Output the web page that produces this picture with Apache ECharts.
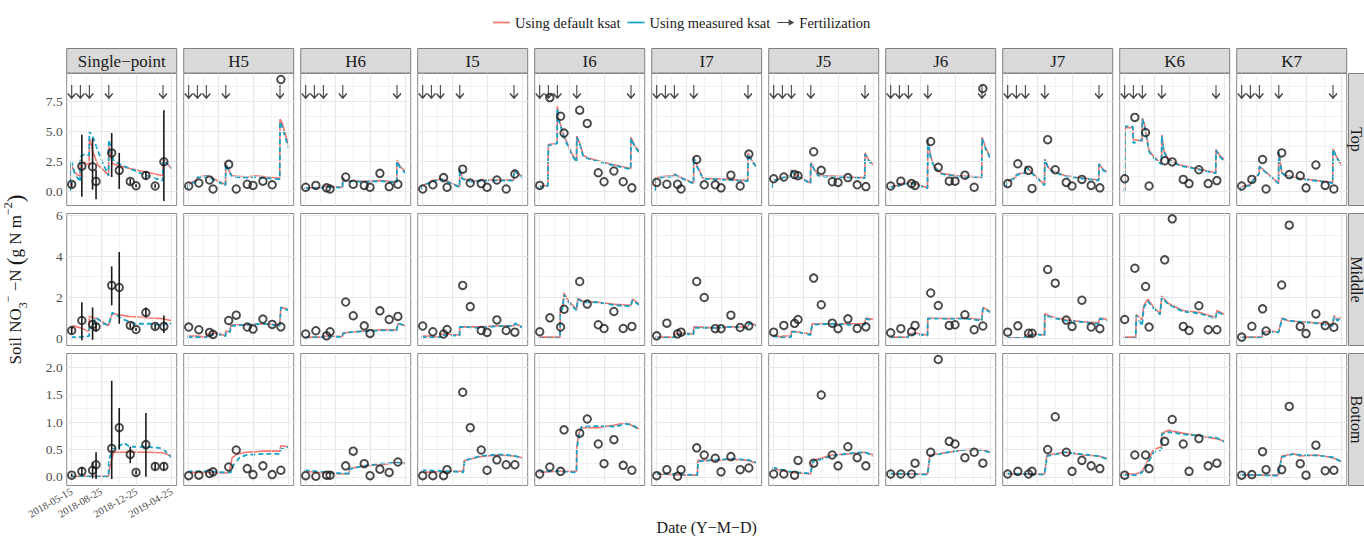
<!DOCTYPE html>
<html>
<head>
<meta charset="utf-8">
<title>Soil NO3-N by layer</title>
<script src="https://cdn.jsdelivr.net/npm/echarts@6/dist/echarts.min.js"></script>
<style>
  html, body { margin: 0; padding: 0; background: #fff; }
  #chart { width: 1364px; height: 536px; }
</style>
</head>
<body>
<div id="chart"></div>
<script>
// ---- data (days counted from 2018-05-15) ----
const sites = ['Single\u2212point', 'H5', 'H6', 'I5', 'I6', 'I7', 'J5', 'J6', 'J7', 'K6', 'K7'];
const layers = ['Top', 'Middle', 'Bottom'];
const dateTicks = [0, 102, 224, 345];
const dateLabels = ['2018-05-15', '2018-08-25', '2018-12-25', '2019-04-25'];
const obsDays = [0, 35, 72, 84, 138, 164, 202, 222, 256, 288, 318];
const fertDays = [0, 30, 61, 128, 315];

const topObs = [
  [0.58, 2.1, 2.05, 0.83, 3.2, 1.75, 0.83, 0.47, 1.33, 0.45, 2.47],
  [0.45, 0.7, 0.95, 0.2, 2.25, 0.2, 0.6, 0.5, 0.85, 0.55, 9.3],
  [0.35, 0.5, 0.3, 0.2, 1.2, 0.6, 0.5, 0.35, 1.5, 0.4, 0.6],
  [0.2, 0.55, 1.15, 0.35, 1.85, 0.7, 0.65, 0.35, 0.95, 0.2, 1.45],
  [0.5, 7.8, 6.25, 4.85, 6.75, 5.65, 1.55, 0.8, 1.7, 0.8, 0.3],
  [0.75, 0.6, 0.6, 0.2, 2.65, 0.55, 0.55, 0.3, 1.35, 0.45, 3.1],
  [1.05, 1.2, 1.4, 1.3, 3.3, 1.75, 0.8, 0.75, 1.15, 0.55, 0.4],
  [0.45, 0.85, 0.65, 0.5, 4.15, 2.0, 0.85, 0.85, 1.35, 0.35, 8.55],
  [0.65, 2.3, 1.75, 0.25, 4.3, 1.8, 0.75, 0.45, 1.0, 0.5, 0.3],
  [1.05, 6.15, 4.9, 0.45, 2.55, 2.45, 1.0, 0.65, 1.8, 0.65, 0.9],
  [0.45, 1.0, 2.65, 0.2, 3.2, 1.4, 1.3, 0.3, 2.2, 0.5, 0.2]
];
const midObs = [
  [0.37, 0.86, 0.67, 0.55, 2.57, 2.47, 0.62, 0.42, 1.25, 0.57, 0.57],
  [0.54, 0.41, 0.28, 0.18, 0.86, 1.12, 0.54, 0.44, 0.93, 0.67, 0.55],
  [0.2, 0.36, 0.11, 0.31, 1.76, 1.09, 0.6, 0.23, 1.33, 0.91, 1.06],
  [0.59, 0.31, 0.2, 0.42, 2.57, 1.54, 0.37, 0.28, 0.89, 0.37, 0.29],
  [0.31, 0.99, 0.54, 1.41, 2.76, 1.66, 0.65, 0.47, 1.3, 0.47, 0.57],
  [0.11, 0.73, 0.21, 0.29, 2.76, 1.98, 0.46, 0.46, 1.12, 0.52, 0.6],
  [0.29, 0.62, 0.72, 0.91, 2.93, 1.63, 0.73, 0.46, 0.94, 0.47, 0.55],
  [0.26, 0.46, 0.31, 0.62, 2.2, 1.59, 0.62, 0.65, 1.14, 0.41, 0.59],
  [0.29, 0.6, 0.24, 0.24, 3.35, 2.68, 0.88, 0.57, 1.85, 0.54, 0.46],
  [0.91, 3.41, 2.52, 0.54, 3.82, 5.82, 0.57, 0.37, 1.58, 0.41, 0.41],
  [0.05, 0.58, 1.43, 0.35, 2.59, 5.51, 0.57, 0.22, 1.18, 0.61, 0.53]
];
const botObs = [
  [0.03, 0.1, 0.12, 0.22, 0.52, 0.9, 0.41, 0.08, 0.59, 0.19, 0.19],
  [0.02, 0.03, 0.06, 0.09, 0.18, 0.49, 0.15, 0.04, 0.2, 0.04, 0.12],
  [0.02, 0.01, 0.03, 0.03, 0.2, 0.47, 0.24, 0.02, 0.14, 0.08, 0.27],
  [0.02, 0.02, 0.02, 0.13, 1.55, 0.9, 0.49, 0.12, 0.31, 0.22, 0.22],
  [0.05, 0.18, 0.1, 0.86, 0.8, 1.06, 0.6, 0.24, 0.68, 0.21, 0.12],
  [0.02, 0.13, 0.01, 0.13, 0.53, 0.4, 0.34, 0.09, 0.37, 0.13, 0.16],
  [0.05, 0.05, 0.03, 0.3, 0.25, 1.5, 0.4, 0.2, 0.55, 0.35, 0.2],
  [0.05, 0.05, 0.05, 0.25, 0.45, 2.15, 0.65, 0.6, 0.35, 0.45, 0.25],
  [0.05, 0.1, 0.05, 0.1, 0.5, 1.1, 0.45, 0.1, 0.3, 0.2, 0.15],
  [0.03, 0.4, 0.4, 0.15, 0.65, 1.05, 0.6, 0.1, 0.7, 0.2, 0.25],
  [0.03, 0.04, 0.46, 0.13, 0.13, 1.29, 0.24, 0.03, 0.58, 0.11, 0.12]
];

// error bars of the single-point site (low / high)
const spTopLow = [0.35, -0.45, 0.15, -0.65, 1.2, 0.2, 0.6, 0.35, 1.0, 0.3, -0.8];
const spTopHigh = [0.8, 4.7, 4.4, 1.8, 4.85, 3.2, 1.05, 0.6, 1.7, 0.6, 6.75];
const spMidLow = [0.2, -0.1, -0.08, 0.3, 1.6, 0.7, 0.5, 0.35, 1.0, 0.45, 0.25];
const spMidHigh = [0.55, 1.75, 1.5, 0.75, 3.5, 4.2, 0.75, 0.5, 1.5, 0.7, 1.1];
const spBotLow = [0.0, 0.02, -0.03, -0.04, -0.04, 0.5, 0.25, 0.04, 0.0, 0.12, 0.12];
const spBotHigh = [0.06, 0.18, 0.27, 0.45, 1.76, 1.26, 0.55, 0.12, 1.17, 0.26, 0.26];

// simulated series, [day, value] breakpoints
const topDefault = [
  [[-3,0.4],[-2,2.2],[10,1.6],[29,1.2],[30,2.6],[60,2.2],[61,4.4],[72,3.4],[90,2.2],[126,1.4],[127,1.3],[128,3.8],[140,2.3],[200,1.9],[260,1.6],[314,1.3],[315,2.7],[330,2.3],[345,1.9]],
  [[-4,0.4],[-1,0.6],[29,1.0],[30,1.2],[60,1.3],[61,1.35],[75,1.2],[127,0.55],[128,2.35],[138,1.8],[150,1.3],[200,1.2],[230,1.3],[314,1.1],[315,6.0],[322,5.7],[332,4.9],[345,3.8]],
  [[-4,0.3],[29,0.3],[30,0.35],[60,0.35],[61,0.45],[84,0.4],[127,0.35],[128,1.2],[135,0.9],[200,0.85],[260,0.9],[314,0.8],[315,2.6],[325,2.1],[345,1.6]],
  [[-4,0.3],[-1,0.5],[29,0.8],[30,0.9],[60,1.0],[61,1.1],[80,0.9],[127,0.4],[128,1.9],[136,1.1],[170,0.85],[220,0.95],[314,0.95],[315,1.8],[328,1.5],[345,1.2]],
  [[-4,0.45],[28,0.5],[30,3.9],[60,4.0],[61,7.1],[66,6.0],[84,4.6],[110,3.2],[127,2.5],[128,4.6],[140,3.9],[150,3.0],[170,2.75],[240,2.3],[314,1.9],[315,4.5],[328,3.8],[345,3.3]],
  [[-4,0.15],[-1,1.2],[29,1.25],[30,1.3],[60,1.3],[61,1.45],[80,1.2],[127,0.7],[128,2.85],[140,2.1],[160,1.1],[250,1.0],[314,0.9],[315,3.2],[328,2.6],[345,2.05]],
  [[-4,0.5],[-1,0.95],[29,1.1],[30,1.2],[60,1.3],[61,1.8],[75,1.4],[127,0.7],[128,2.4],[140,1.85],[155,1.3],[230,1.25],[314,1.15],[315,3.2],[328,2.6],[345,2.2]],
  [[-4,0.4],[29,0.5],[30,0.65],[60,0.7],[61,0.8],[90,0.6],[127,0.3],[128,4.4],[138,2.9],[150,2.1],[175,1.5],[230,1.3],[314,1.2],[315,4.5],[328,3.6],[345,2.8]],
  [[-4,0.5],[-1,0.85],[29,1.2],[30,1.4],[60,1.6],[61,2.1],[70,1.9],[127,0.55],[128,2.7],[140,2.0],[155,1.7],[200,1.3],[314,0.95],[315,2.3],[330,1.8],[345,1.6]],
  [[-4,0.1],[0,0.15],[1,5.3],[28,5.3],[30,4.3],[60,4.2],[61,6.1],[68,5.6],[84,3.4],[100,2.9],[127,2.3],[128,4.7],[135,3.4],[150,2.7],[190,2.2],[250,1.9],[314,1.55],[315,3.5],[328,3.0],[345,2.6]],
  [[-4,0.1],[-1,0.4],[29,0.55],[30,0.7],[60,1.5],[61,2.1],[70,1.9],[127,0.7],[128,3.3],[138,1.6],[150,1.35],[200,1.1],[314,0.75],[315,3.55],[325,3.0],[345,2.15]]
];
const topMeasured = [
  [[-3,0.0],[-2,2.6],[10,1.5],[29,0.8],[30,2.9],[45,3.1],[60,3.0],[61,5.0],[75,4.4],[90,3.4],[110,2.2],[126,1.4],[127,1.3],[128,4.3],[145,2.5],[200,1.9],[260,1.3],[314,0.9],[315,2.6],[330,2.3],[345,1.9]],
  [[-4,0.2],[-1,0.5],[29,0.9],[30,1.2],[60,1.2],[61,1.3],[75,1.1],[127,0.5],[128,2.3],[138,1.7],[150,1.2],[200,1.15],[230,1.2],[314,1.0],[315,5.8],[322,5.4],[332,4.6],[345,3.6]],
  [[-4,0.25],[29,0.3],[30,0.35],[60,0.3],[61,0.4],[84,0.35],[127,0.3],[128,1.1],[135,0.85],[200,0.8],[260,0.85],[314,0.75],[315,2.5],[325,2.0],[345,1.5]],
  [[-4,0.15],[-1,0.5],[29,0.75],[30,0.85],[60,0.95],[61,1.05],[80,0.85],[127,0.35],[128,1.85],[136,1.05],[170,0.8],[220,0.9],[314,0.9],[315,1.75],[328,1.45],[345,1.15]],
  [[-4,0.35],[28,0.45],[30,3.8],[60,4.0],[61,6.9],[66,5.9],[84,4.5],[110,3.1],[127,2.4],[128,4.5],[140,3.8],[150,2.9],[170,2.7],[240,2.25],[314,1.85],[315,4.4],[328,3.7],[345,3.2]],
  [[-4,0.05],[-1,1.1],[29,1.2],[30,1.25],[60,1.25],[61,1.4],[80,1.15],[127,0.65],[128,2.8],[140,2.0],[160,1.05],[250,0.95],[314,0.85],[315,3.1],[328,2.5],[345,2.0]],
  [[-4,0.3],[-1,0.9],[29,1.05],[30,1.15],[60,1.25],[61,1.75],[75,1.35],[127,0.65],[128,2.35],[140,1.8],[155,1.25],[230,1.2],[314,1.1],[315,3.1],[328,2.55],[345,2.1]],
  [[-4,0.35],[29,0.45],[30,0.6],[60,0.65],[61,0.75],[90,0.55],[127,0.25],[128,4.3],[138,2.8],[150,2.0],[175,1.45],[230,1.25],[314,1.15],[315,4.4],[328,3.5],[345,2.7]],
  [[-4,0.4],[-1,0.8],[29,1.15],[30,1.35],[60,1.55],[61,2.05],[70,1.85],[127,0.5],[128,2.65],[140,1.95],[155,1.65],[200,1.25],[314,0.9],[315,2.25],[330,1.75],[345,1.55]],
  [[-4,0.0],[0,0.05],[1,5.4],[28,5.4],[30,4.0],[60,4.3],[61,6.0],[68,5.5],[84,3.3],[100,2.8],[127,2.25],[128,4.6],[135,3.3],[150,2.6],[190,2.15],[250,1.85],[314,1.5],[315,3.4],[328,2.9],[345,2.5]],
  [[-4,0.05],[-1,0.35],[29,0.5],[30,0.65],[60,1.45],[61,2.05],[70,1.85],[127,0.65],[128,3.25],[138,1.55],[150,1.3],[200,1.05],[314,0.7],[315,3.5],[325,2.95],[345,2.1]]
];
const midDefault = [
  [[-3,0.35],[5,0.6],[30,0.5],[55,0.35],[60,0.35],[61,1.05],[90,0.95],[110,0.75],[127,0.6],[140,1.2],[200,1.05],[260,1.0],[314,0.95],[330,0.9],[345,0.85]],
  [[-4,0.1],[30,0.1],[61,0.05],[62,0.2],[100,0.25],[127,0.1],[128,0.35],[143,0.3],[145,0.65],[200,0.65],[260,0.7],[314,0.65],[318,1.5],[345,1.4]],
  [[-4,0.05],[61,0.05],[62,0.1],[127,0.08],[128,0.25],[160,0.3],[200,0.35],[260,0.4],[314,0.4],[318,0.7],[345,0.6]],
  [[-4,0.1],[30,0.1],[61,0.05],[62,0.2],[127,0.15],[128,0.55],[200,0.55],[260,0.6],[314,0.6],[318,0.7],[345,0.55]],
  [[-4,0.05],[70,0.05],[71,1.3],[80,1.6],[84,2.2],[100,1.8],[127,1.4],[132,1.95],[150,1.8],[200,1.75],[260,1.65],[314,1.6],[320,1.9],[345,1.65]],
  [[-4,0.05],[61,0.05],[62,0.2],[100,0.25],[127,0.2],[128,0.55],[200,0.5],[260,0.55],[314,0.55],[318,0.7],[345,0.65]],
  [[-4,0.15],[29,0.05],[30,0.1],[60,0.1],[61,0.35],[84,0.3],[127,0.2],[133,0.7],[200,0.7],[260,0.7],[314,0.7],[318,1.0],[345,0.9]],
  [[-4,0.05],[60,0.05],[61,0.2],[84,0.25],[127,0.15],[128,1.0],[200,0.95],[260,1.0],[314,0.9],[318,1.5],[345,1.3]],
  [[-4,0.0],[60,0.0],[61,0.15],[100,0.2],[127,0.15],[128,1.2],[150,1.05],[200,0.9],[260,0.8],[314,0.75],[318,1.0],[345,0.9]],
  [[-4,0.05],[38,0.05],[40,1.15],[60,0.9],[66,1.6],[80,1.9],[100,1.5],[122,1.2],[128,2.05],[150,1.7],[200,1.35],[260,1.25],[314,1.0],[318,1.35],[345,1.15]],
  [[-4,0.05],[70,0.05],[72,0.3],[100,0.35],[127,0.3],[140,1.0],[160,0.85],[200,0.8],[260,0.75],[314,0.65],[318,1.1],[330,0.9],[345,1.05]]
];
const midMeasured = [
  [[-3,0.05],[30,0.05],[60,0.1],[61,0.5],[70,0.6],[84,1.0],[110,0.7],[127,0.65],[140,1.25],[180,0.9],[220,0.7],[280,0.7],[314,0.6],[330,0.75],[345,0.7]],
  [[-4,0.05],[30,0.05],[61,0.0],[62,0.15],[100,0.2],[127,0.1],[128,0.3],[143,0.3],[145,0.6],[200,0.65],[260,0.7],[314,0.6],[318,1.5],[345,1.35]],
  [[-4,0.03],[61,0.03],[62,0.08],[127,0.06],[128,0.22],[160,0.3],[200,0.33],[260,0.38],[314,0.38],[318,0.72],[345,0.62]],
  [[-4,0.05],[30,0.05],[61,0.02],[62,0.15],[127,0.12],[128,0.55],[200,0.5],[260,0.58],[314,0.6],[318,0.72],[345,0.5]],
  [[-4,0.0],[70,0.0],[71,1.2],[80,1.5],[84,2.1],[100,1.75],[127,1.35],[132,1.9],[150,1.75],[200,1.75],[260,1.6],[314,1.55],[320,1.85],[345,1.6]],
  [[-4,0.02],[61,0.02],[62,0.15],[100,0.2],[127,0.18],[128,0.5],[200,0.5],[260,0.55],[314,0.5],[318,0.72],[345,0.6]],
  [[-4,0.1],[29,0.02],[30,0.05],[60,0.05],[61,0.3],[84,0.3],[127,0.15],[133,0.65],[200,0.7],[260,0.65],[314,0.65],[318,0.95],[345,0.85]],
  [[-4,0.02],[60,0.02],[61,0.15],[84,0.2],[127,0.12],[128,0.95],[200,0.95],[260,0.95],[314,0.85],[318,1.45],[345,1.25]],
  [[-4,0.0],[60,0.0],[61,0.1],[100,0.18],[127,0.12],[128,1.15],[150,1.0],[200,0.85],[260,0.78],[314,0.7],[318,0.95],[345,0.85]],
  [[-4,0.0],[38,0.0],[40,1.1],[60,0.6],[66,1.5],[80,1.8],[100,1.45],[122,1.15],[128,2.0],[150,1.65],[200,1.3],[260,1.2],[314,0.95],[318,1.3],[345,1.1]],
  [[-4,0.02],[70,0.02],[72,0.25],[100,0.3],[127,0.28],[140,0.95],[160,0.85],[200,0.8],[260,0.72],[314,0.6],[318,1.05],[330,0.85],[345,1.0]]
];
const botDefault = [
  [[-3,0.01],[127,0.01],[130,0.15],[145,0.45],[200,0.45],[260,0.45],[314,0.44],[345,0.38]],
  [[-4,0.08],[60,0.08],[127,0.07],[140,0.08],[150,0.35],[170,0.42],[200,0.45],[260,0.47],[314,0.47],[318,0.57],[345,0.55]],
  [[-4,0.1],[60,0.07],[127,0.05],[150,0.06],[151,0.15],[200,0.2],[260,0.22],[314,0.26],[345,0.24]],
  [[-4,0.08],[100,0.1],[140,0.1],[143,0.3],[200,0.37],[260,0.4],[314,0.38],[345,0.35]],
  [[-4,0.08],[60,0.1],[127,0.1],[128,0.55],[135,0.8],[145,0.9],[200,0.9],[260,0.95],[300,1.0],[330,0.9],[345,0.88]],
  [[-4,0.05],[100,0.03],[140,0.03],[142,0.3],[200,0.3],[260,0.32],[314,0.3],[345,0.25]],
  [[-4,0.15],[60,0.08],[127,0.05],[135,0.3],[200,0.4],[260,0.42],[314,0.45],[345,0.4]],
  [[-4,0.05],[127,0.05],[135,0.4],[200,0.45],[260,0.5],[314,0.5],[345,0.45]],
  [[-4,0.05],[127,0.05],[135,0.4],[200,0.45],[260,0.4],[314,0.38],[345,0.33]],
  [[-4,0.05],[40,0.05],[60,0.1],[80,0.3],[100,0.5],[127,0.55],[128,0.8],[150,0.85],[200,0.8],[260,0.75],[314,0.7],[345,0.65]],
  [[-4,0.03],[126,0.03],[138,0.38],[180,0.42],[200,0.38],[260,0.4],[314,0.35],[345,0.28]]
];
const botMeasured = [
  [[-3,0.0],[127,0.0],[128,0.3],[140,0.5],[160,0.55],[180,0.62],[200,0.55],[260,0.55],[314,0.52],[345,0.35]],
  [[-4,0.1],[60,0.1],[127,0.08],[145,0.08],[155,0.22],[175,0.35],[200,0.4],[260,0.42],[314,0.42],[318,0.5],[345,0.55]],
  [[-4,0.12],[60,0.09],[127,0.06],[150,0.06],[151,0.14],[200,0.2],[260,0.24],[314,0.26],[345,0.25]],
  [[-4,0.12],[100,0.1],[140,0.08],[145,0.3],[200,0.38],[260,0.41],[314,0.39],[345,0.34]],
  [[-4,0.1],[60,0.1],[127,0.08],[128,0.5],[135,0.75],[145,0.92],[200,0.93],[260,0.92],[300,0.97],[330,0.92],[345,0.86]],
  [[-4,0.06],[100,0.04],[140,0.03],[143,0.28],[200,0.31],[260,0.33],[314,0.31],[345,0.26]],
  [[-4,0.17],[60,0.09],[127,0.06],[136,0.28],[200,0.38],[260,0.43],[314,0.45],[345,0.38]],
  [[-4,0.06],[127,0.04],[136,0.38],[200,0.45],[260,0.5],[314,0.49],[345,0.44]],
  [[-4,0.06],[127,0.04],[136,0.38],[200,0.45],[260,0.41],[314,0.38],[345,0.32]],
  [[-4,0.03],[40,0.03],[60,0.08],[80,0.25],[100,0.45],[127,0.5],[128,0.78],[150,0.82],[200,0.78],[260,0.75],[314,0.72],[345,0.64]],
  [[-4,0.04],[126,0.02],[138,0.36],[180,0.42],[200,0.4],[260,0.39],[314,0.36],[345,0.27]]
];

// axis breaks per row
const yLimits = [[-1.17, 9.8], [-0.36, 6.08], [-0.16, 2.26]];
const yMajor = [[0, 2.5, 5, 7.5], [0, 2, 4, 6], [0, 0.5, 1, 1.5, 2]];
const yMinor = [[1.25, 3.75, 6.25, 8.75], [1, 3, 5], [0.25, 0.75, 1.25, 1.75]];
const xMinor = [51, 163, 284.5];
const arrowLevel = 8.3;

// ---- layout / style ----
const SERIF = '"Liberation Serif", "DejaVu Serif", serif';
const RED = '#F8766D';
const BLUE = '#13A3C9';
const INK = '#1a1a1a';
const PANEL_X0 = 66.7, COL_STEP = 117, PANEL_W = 110, PANEL_H = 132;
const ROW_TOP = [73.5, 213.5, 353.5];
const ARROW = 'path://M5,0 L5,14 M0.8,9.2 L5,14 L9.2,9.2';

const obsRows = [topObs, midObs, botObs];
const defRows = [topDefault, midDefault, botDefault];
const meaRows = [topMeasured, midMeasured, botMeasured];
const errRows = [[spTopLow, spTopHigh], [spMidLow, spMidHigh], [spBotLow, spBotHigh]];
const yFmt = [v => v.toFixed(1), v => String(v), v => v.toFixed(1)];

const grids = [], xAxes = [], yAxes = [], series = [], graphics = [];

layers.forEach((layer, r) => {
  sites.forEach((site, c) => {
    const idx = r * sites.length + c;
    const left = PANEL_X0 + COL_STEP * c;
    grids.push({
      left: left, top: ROW_TOP[r], width: PANEL_W, height: PANEL_H,
      show: true, backgroundColor: '#fff', borderColor: '#8a8a8a', borderWidth: 1
    });
    xAxes.push({
      gridIndex: idx, type: 'value', min: -17.25, max: 362.25,
      axisLine: { show: false }, splitLine: { show: false },
      axisTick: { show: r === 2, customValues: dateTicks, length: 4, lineStyle: { color: '#333' } },
      axisLabel: {
        show: r === 2 && c === 0, customValues: dateTicks, rotate: 30, margin: 5,
        fontFamily: SERIF, fontSize: 10.5, color: '#4d4d4d',
        formatter: v => dateLabels[dateTicks.indexOf(v)] || ''
      }
    });
    const ya = {
      gridIndex: idx, type: 'value', min: yLimits[r][0], max: yLimits[r][1],
      axisLine: { show: false }, splitLine: { show: false },
      axisTick: { show: c === 0, customValues: yMajor[r], length: 4, lineStyle: { color: '#333' } },
      axisLabel: {
        show: c === 0, customValues: yMajor[r], margin: 4,
        fontFamily: SERIF, fontSize: 13.5, color: '#4d4d4d', formatter: yFmt[r]
      }
    };
    if (r === 1 && c === 0) {
      ya.name = '{t|Soil NO}{b|3}{p|\u2212}{t| \u2212N }{q|(}{t|g N m}{p|\u22122}{q|)}';
      ya.nameLocation = 'middle';
      ya.nameRotate = 90;
      ya.nameGap = 38;
      ya.nameTextStyle = {
        rich: {
          t: { fontFamily: SERIF, fontSize: 17, color: INK, lineHeight: 27, verticalAlign: 'middle' },
          b: { fontFamily: SERIF, fontSize: 12, color: INK, lineHeight: 12, verticalAlign: 'bottom' },
          p: { fontFamily: SERIF, fontSize: 12, color: INK, lineHeight: 12, verticalAlign: 'top' },
          q: { fontFamily: SERIF, fontSize: 23, color: INK, lineHeight: 27, verticalAlign: 'middle' }
        }
      };
    }
    yAxes.push(ya);

    // panel grid lines
    const gl = [];
    dateTicks.forEach(v => gl.push({ xAxis: v, lineStyle: { width: 1.1 } }));
    xMinor.forEach(v => gl.push({ xAxis: v, lineStyle: { width: 0.55 } }));
    yMajor[r].forEach(v => gl.push({ yAxis: v, lineStyle: { width: 1.1 } }));
    yMinor[r].forEach(v => gl.push({ yAxis: v, lineStyle: { width: 0.55 } }));
    series.push({
      type: 'line', xAxisIndex: idx, yAxisIndex: idx, data: [[0, 0]], z: 0, silent: true,
      showSymbol: false, symbol: 'none', lineStyle: { opacity: 0 },
      markLine: {
        silent: true, symbol: ['none', 'none'], label: { show: false }, animation: false,
        lineStyle: { color: '#e8e8e8', type: 'solid' }, data: gl
      }
    });

    series.push({
      type: 'line', name: 'Using default ksat', xAxisIndex: idx, yAxisIndex: idx,
      data: defRows[r][c], symbol: 'none', showSymbol: false, z: 3, silent: true,
      itemStyle: { color: RED }, lineStyle: { color: RED, width: 1.6 }
    });
    series.push({
      type: 'line', name: 'Using measured ksat', xAxisIndex: idx, yAxisIndex: idx,
      data: meaRows[r][c], symbol: 'none', showSymbol: false, z: 4, silent: true,
      itemStyle: { color: BLUE }, lineStyle: { color: BLUE, width: 1.8, type: [5, 3] }
    });

    if (c === 0) {
      const lo = errRows[r][0], hi = errRows[r][1];
      series.push({
        type: 'custom', xAxisIndex: idx, yAxisIndex: idx, z: 5, silent: true,
        data: obsDays.map((d, i) => [d, lo[i], hi[i]]),
        encode: { x: 0, y: [1, 2] },
        renderItem: (params, api) => {
          const a = api.coord([api.value(0), api.value(1)]);
          const b = api.coord([api.value(0), api.value(2)]);
          return {
            type: 'line', shape: { x1: a[0], y1: a[1], x2: b[0], y2: b[1] },
            style: { stroke: INK, lineWidth: 1.6 }
          };
        }
      });
    }

    series.push({
      type: 'scatter', name: 'Observed', xAxisIndex: idx, yAxisIndex: idx, z: 6, silent: true,
      data: obsDays.map((d, i) => [d, obsRows[r][c][i]]),
      symbol: 'circle', symbolSize: 7.5,
      itemStyle: { color: 'rgba(0,0,0,0)', borderColor: INK, borderWidth: 1.9 }
    });

    if (r === 0) {
      series.push({
        type: 'scatter', name: 'Fertilization', xAxisIndex: idx, yAxisIndex: idx, z: 6, silent: true,
        data: fertDays.map(d => [d, arrowLevel]),
        symbol: ARROW, symbolSize: [8, 13],
        itemStyle: { color: 'rgba(0,0,0,0)', borderColor: INK, borderWidth: 1.4 }
      });
      // column strip
      graphics.push({
        type: 'rect', silent: true,
        shape: { x: left, y: 48.5, width: PANEL_W, height: 24.5 },
        style: { fill: '#d9d9d9', stroke: '#7f7f7f', lineWidth: 1 }
      });
      graphics.push({
        type: 'text', silent: true, x: left + PANEL_W / 2, y: 61,
        style: { text: site, align: 'center', verticalAlign: 'middle', fontFamily: SERIF, fontSize: 17, fill: INK }
      });
    }
  });
  // row strip
  graphics.push({
    type: 'rect', silent: true,
    shape: { x: 1348.5, y: ROW_TOP[r], width: 25, height: PANEL_H },
    style: { fill: '#d9d9d9', stroke: '#7f7f7f', lineWidth: 1 }
  });
  graphics.push({
    type: 'text', silent: true, x: 1356.5, y: ROW_TOP[r] + PANEL_H / 2, rotation: -Math.PI / 2,
    style: { text: layer, align: 'center', verticalAlign: 'middle', fontFamily: SERIF, fontSize: 16, fill: INK }
  });
});

// x axis title, centred under the panels
graphics.push({
  type: 'text', silent: true, x: PANEL_X0 + (COL_STEP * 10 + PANEL_W) / 2, y: 527,
  style: { text: 'Date (Y\u2212M\u2212D)', align: 'center', verticalAlign: 'middle', fontFamily: SERIF, fontSize: 16, fill: INK }
});

const chart = echarts.init(document.getElementById('chart'), null, { renderer: 'svg' });
chart.setOption({
  animation: false,
  backgroundColor: '#fff',
  legend: {
    top: 10, left: 488, itemWidth: 17, itemHeight: 10, itemGap: 7,
    textStyle: { fontFamily: SERIF, fontSize: 14.5, color: INK },
    data: [
      { name: 'Using default ksat', icon: 'path://M0,0 L20,0 L20,2 L0,2 Z', itemStyle: { color: RED, borderWidth: 0 } },
      { name: 'Using measured ksat', icon: 'path://M0,0 L20,0 L20,2 L0,2 Z', itemStyle: { color: BLUE, borderWidth: 0 } },
      { name: 'Fertilization', icon: 'path://M0,4.3 L14,4.3 L14,1 L21,5 L14,9 L14,5.7 L0,5.7 Z', itemStyle: { color: INK, borderWidth: 0 } }
    ]
  },
  grid: grids,
  xAxis: xAxes,
  yAxis: yAxes,
  series: series,
  graphic: graphics
});
window.addEventListener('resize', () => chart.resize());
</script>
</body>
</html>
